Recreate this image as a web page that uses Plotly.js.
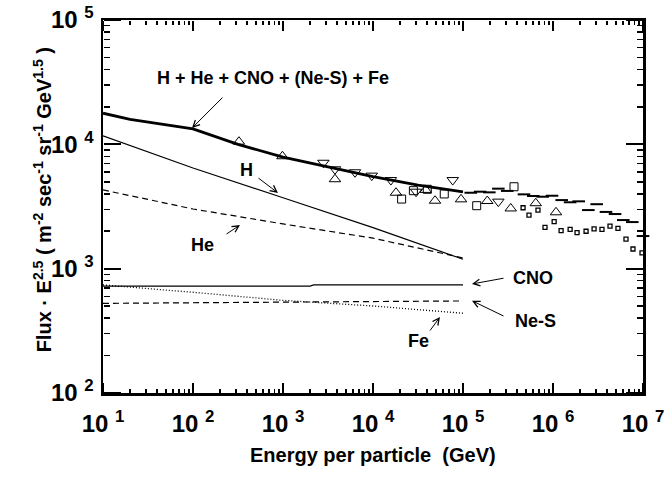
<!DOCTYPE html>
<html>
<head>
<meta charset="utf-8">
<script src="https://cdn.plot.ly/plotly-3.0.1.min.js"></script>
<style>html,body{margin:0;padding:0;background:#fff;}#chart{width:668px;height:478px;}</style>
</head>
<body>
<div id="chart"></div>
<script>
// ---- data (energy in GeV, flux * E^2.5) ----
var totalE = [10, 20, 100, 316, 1000, 3160, 10000, 31600, 100000];
var totalF = [17800, 15850, 13300, 10000, 7900, 6600, 5500, 4700, 4140];

var hE = [10, 100, 1000, 10000, 100000];
var hF = [11700, 6450, 3720, 2140, 1190];

var heE = [10, 100, 1000, 10000, 100000];
var heF = [4300, 3020, 2290, 1760, 1220];

var cnoE = [10, 2000, 2200, 100000];
var cnoF = [725, 725, 740, 740];

var nesE = [10, 1000, 100000];
var nesF = [526, 540, 550];

var feE = [10, 100, 1000, 10000, 100000];
var feF = [740, 646, 556, 501, 438];

var triUpE = [324, 986, 3780, 18000, 38500, 48900, 95100, 186000, 339000, 643000, 1080000];
var triUpF = [10500, 8020, 5240, 4080, 4300, 3520, 3610, 3500, 3050, 3360, 2840];

var triDnE = [2810, 3780, 6310, 9680, 15800, 30100, 76900, 247000];
var triDnF = [7110, 6300, 5960, 5600, 5160, 4160, 5160, 3460];

var sqE = [20800, 28100, 40100, 61900, 142000, 369000];
var sqF = [3630, 4240, 4350, 3990, 3210, 4560];

var dashE = [122000, 155000, 196000, 247000, 310000, 476000, 604000, 769000, 975000, 1250000,
             1550000, 1930000, 2470000, 3060000, 3880000, 4890000, 6040000, 7600000, 10000000];
var dashF = [4080, 4160, 4110, 4400, 4220, 3960, 3840, 3790, 3860, 3560,
             3420, 3480, 2960, 3300, 2860, 2750, 2460, 2370, 1830];

var smallE = [465000, 541000, 681000, 815000, 1030000, 1230000, 1550000, 1850000, 2330000,
              2860000, 3500000, 4300000, 5270000, 6470000, 7740000, 9750000];
var smallF = [3090, 2700, 2960, 2150, 2390, 2020, 2070, 1950, 2000,
              2090, 2070, 2200, 2110, 1730, 1440, 1340];

// tick labels: default log labels -> "10^n" text
var SP = '\u2009\u2009';
var xTickAlias = {'10': '10<sup>' + SP + '1</sup>', '100': '10<sup>' + SP + '2</sup>', '1000': '10<sup>' + SP + '3</sup>',
                  '10k': '10<sup>' + SP + '4</sup>', '100k': '10<sup>' + SP + '5</sup>', '1M': '10<sup>' + SP + '6</sup>',
                  '10M': '10<sup>' + SP + '7</sup>'};
var yTickAlias = {'100': '10<sup>' + SP + '2</sup>', '1000': '10<sup>' + SP + '3</sup>',
                  '10k': '10<sup>' + SP + '4</sup>', '100k': '10<sup>' + SP + '5</sup>'};

var FONT = 'Liberation Sans, Arial, Helvetica, sans-serif';

function line(x, y, w, dash) {
  return {x: x, y: y, type: 'scatter', mode: 'lines', hoverinfo: 'skip',
          line: {color: 'black', width: w, dash: dash || 'solid'}};
}
function pts(x, y, sym, size, lw, clip) {
  return {x: x, y: y, type: 'scatter', mode: 'markers', hoverinfo: 'skip', cliponaxis: clip,
          marker: {symbol: sym, size: size, color: 'black', line: {color: 'black', width: lw}}};
}

var traces = [
  line(totalE, totalF, 2.8),
  line(hE, hF, 1.2),
  line(heE, heF, 1.2, '6px,4px'),
  line(cnoE, cnoF, 1.2),
  line(nesE, nesF, 1.2, '6px,4px'),
  line(feE, feF, 1.3, '1px,2px'),
  pts(triUpE, triUpF, 'triangle-up-open', 10, 1, true),
  pts(triDnE, triDnF, 'triangle-down-open', 10, 1, true),
  pts(sqE, sqF, 'square-open', 8, 1, true),
  pts(dashE, dashF, 'line-ew', 9, 2, false),
  pts(smallE, smallF, 'square-open', 4, 1.3, false),
  // empty traces that register the tick-only overlay axes
  {x: [], y: [], type: 'scatter', mode: 'markers', xaxis: 'x2', yaxis: 'y2', hoverinfo: 'skip'},
  {x: [], y: [], type: 'scatter', mode: 'markers', xaxis: 'x3', yaxis: 'y3', hoverinfo: 'skip'}
];

function lab(text, x, y) {
  return {text: text, x: x, y: y, xref: 'x', yref: 'y', showarrow: false,
          font: {family: FONT, size: 18, color: 'black', weight: 'bold'}};
}
function arr(x, y, ax, ay) {
  return {text: '', x: x, y: y, xref: 'x', yref: 'y', showarrow: true, ax: ax, ay: ay,
          arrowhead: 5, arrowsize: 1.3, arrowwidth: 1, arrowcolor: 'black'};
}

var annotations = [
  lab('H + He + CNO + (Ne-S) + Fe', 2.889, 4.534),
  arr(1.989, 4.131, 32, -32),
  lab('H', 2.597, 3.794),
  arr(2.944, 3.609, -21, -16),
  lab('He', 2.111, 3.190),
  arr(2.522, 3.351, -15, 10),
  lab('CNO', 5.778, 2.925),
  arr(5.1, 2.877, 33, -6),
  lab('Ne-S', 5.8, 2.581),
  arr(5.1, 2.742, 33, 16),
  lab('Fe', 4.5, 2.421),
  arr(4.744, 2.611, -11, 15),
  {text: 'Flux \u00b7 E<sup>2.5</sup>&nbsp;( m<sup>-2</sup>&nbsp;sec<sup>-1</sup>&nbsp;sr<sup>-1</sup>&nbsp;GeV<sup>1.5</sup>&nbsp;)',
   xref: 'paper', yref: 'paper', x: -0.1126, y: 0.517, xanchor: 'center', yanchor: 'middle',
   textangle: -90, showarrow: false, font: {family: FONT, size: 20, color: 'black', weight: 'bold'}},
  {text: 'Energy per particle  (GeV)', xref: 'paper', yref: 'paper', x: 0.5, y: -0.166,
   xanchor: 'center', yanchor: 'middle', showarrow: false,
   font: {family: FONT, size: 20, color: 'black', weight: 'bold'}}
];

var X_RANGE = [1, 7], Y_RANGE = [2, 5];

// main axes: frame line + labels
var axisCommon = {
  type: 'log', tickmode: 'linear', tick0: 0, dtick: 1, ticks: '',
  showline: true, linecolor: 'black', linewidth: 2.5, mirror: true,
  showgrid: false, zeroline: false, fixedrange: true,
  tickfont: {family: FONT, size: 24, color: 'black', weight: 'bold'}
};

// tick-only overlay axes: their "outside" ticks point into the plot area
function tickAxis(range, overlay, pos, side, len, minorLen) {
  return {type: 'log', range: range, overlaying: overlay, anchor: 'free', position: pos, side: side,
          tickmode: 'linear', tick0: 0, dtick: 1, ticks: 'outside', ticklen: len, tickwidth: 2, tickcolor: 'black',
          showticklabels: false, showline: false, showgrid: false, zeroline: false, fixedrange: true,
          minor: {dtick: 'D1', ticks: 'outside', ticklen: minorLen, tickwidth: 1.5, tickcolor: 'black', showgrid: false}};
}

var layout = {
  width: 668, height: 478,
  margin: {l: 103, r: 25, t: 20, b: 85, pad: 0},
  paper_bgcolor: 'white', plot_bgcolor: 'white', showlegend: false,
  xaxis: Object.assign({}, axisCommon, {range: X_RANGE, labelalias: xTickAlias, ticklabelstandoff: 8}),
  yaxis: Object.assign({}, axisCommon, {range: Y_RANGE, labelalias: yTickAlias, ticklabelstandoff: 2}),
  xaxis2: tickAxis(X_RANGE, 'x', 0, 'top', 10, 4),
  xaxis3: tickAxis(X_RANGE, 'x', 1, 'bottom', 10, 4),
  yaxis2: tickAxis(Y_RANGE, 'y', 0, 'right', 17, 6),
  yaxis3: tickAxis(Y_RANGE, 'y', 1, 'left', 17, 6),
  annotations: annotations
};

Plotly.newPlot('chart', traces, layout, {staticPlot: true, displayModeBar: false});
</script>
</body>
</html>
